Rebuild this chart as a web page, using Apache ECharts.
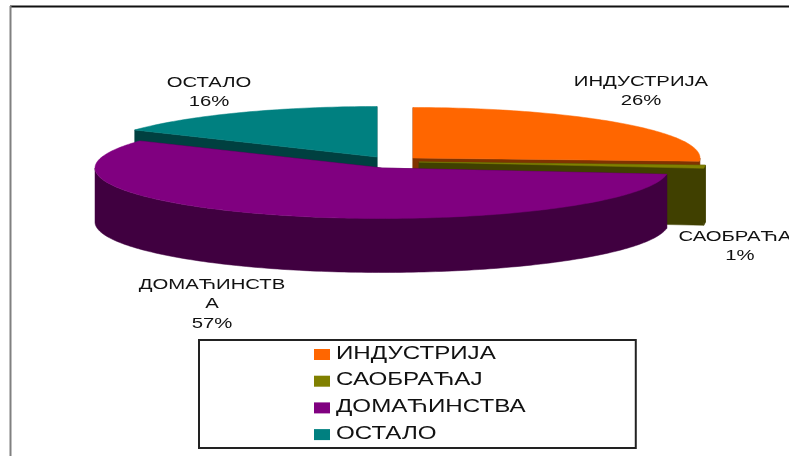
<!DOCTYPE html>
<html><head><meta charset="utf-8">
<style>html,body{margin:0;padding:0;background:#fff;overflow:hidden}#c{width:789px;height:456px}</style>
<script src="https://cdn.jsdelivr.net/npm/echarts@6/dist/echarts.min.js"></script>
</head><body><div id="c"></div>
<script>
// data
const categories = ['ИНДУСТРИЈА','САОБРАЋАЈ','ДОМАЋИНСТВА','ОСТАЛО'];
const values = [26, 1, 57, 16];
const sliceLabels = [['ИНДУСТРИЈА','26%'],['САОБРАЋАЈ','1%'],['ДОМАЋИНСТВ','А','57%'],['ОСТАЛО','16%']];

// styles and layout
const topColors  = ['#FF6600','#808000','#800080','#008080'];
const sideColors = ['#803300','#404000','#400040','#004040'];
const centers = [[413,158],[419,162],[382,168],[377,157]];
const depths = [54,57,54,54];
const labelAnchors = [[641,82],[740,237],[212,285],[209,83]];
const legendTextY = [354,380.5,407.5,434];
const RX = 287, RY = 50.5;
const FONT = '"Liberation Sans", sans-serif';
const LABEL_STRETCH = 1.45, LEGEND_STRETCH = 1.38;

const total = values.reduce((a,b)=>a+b,0);
const starts = []; { let s = 0; values.forEach(v=>{ starts.push(s/total*2*Math.PI); s += v; }); }

function makeRender(i){
  return function(params, api){
    const a0 = starts[i], a1 = a0 + api.value(0)/total*2*Math.PI;
    const [cx,cy] = centers[i], D = depths[i];
    const pt = (a,d)=>[cx+RX*Math.sin(a), cy-RY*Math.cos(a)+d];
    const arc = (s,e,d)=>{ const n=Math.max(2,Math.ceil((e-s)/0.02)); const r=[]; for(let k=0;k<=n;k++) r.push(pt(s+(e-s)*k/n,d)); return r; };
    const poly = (points,fill)=>({type:'polygon',silent:true,shape:{points},style:{fill,stroke:fill,lineWidth:0.5}});
    const kids = [];
    [a0,a1].forEach(a=>kids.push(poly([[cx,cy],pt(a,0),pt(a,D),[cx,cy+D]],sideColors[i])));
    const ws = Math.max(a0,Math.PI/2), we = Math.min(a1,1.5*Math.PI);
    if(we>ws) kids.push(poly(arc(ws,we,0).concat(arc(ws,we,D).reverse()),sideColors[i]));
    kids.push(poly([[cx,cy]].concat(arc(a0,a1,0)),topColors[i]));
    return {type:'group',children:kids};
  };
}

const drawOrder = [3,0,1,2];
const series = drawOrder.map((i,k)=>({
  type:'custom', name:categories[i], coordinateSystem:'none', z:2+k, animation:false, silent:true,
  itemStyle:{color:topColors[i]}, data:[[values[i]]], renderItem:makeRender(i)
}));

const labelGraphics = [];
sliceLabels.forEach((lines,i)=>lines.forEach((t,j)=>labelGraphics.push({
  type:'text', x:labelAnchors[i][0], y:labelAnchors[i][1]+j*19.5, scaleX:LABEL_STRETCH, z:20, silent:true,
  style:{text:t, fill:'#111', font:'14px '+FONT, align:'center', verticalAlign:'middle'}
})));
const legendText = categories.map((t,i)=>({
  type:'text', x:336, y:legendTextY[i], scaleX:LEGEND_STRETCH, z:20, silent:true,
  style:{text:t, fill:'#111', font:'17.5px '+FONT, align:'left', verticalAlign:'middle'}
}));
const frame = [
  {type:'line',z:1,silent:true,shape:{x1:10,y1:6.5,x2:789,y2:6.5},style:{stroke:'#111',lineWidth:2}},
  {type:'line',z:1,silent:true,shape:{x1:10.5,y1:6,x2:10.5,y2:456},style:{stroke:'#808080',lineWidth:2}}
];

const chart = echarts.init(document.getElementById('c'),null,{renderer:'canvas'});
chart.setOption({
  animation:false,
  backgroundColor:'#fff',
  legend:{
    data:categories, orient:'vertical', left:199, top:340, icon:'rect', selectedMode:false,
    itemWidth:16, itemHeight:11, itemGap:15.7, padding:[9,298,8,115],
    formatter:()=>' ',
    borderColor:'#222', borderWidth:2,
    textStyle:{fontSize:10}
  },
  graphic:{elements:frame.concat(labelGraphics, legendText)},
  series
});
</script></body></html>
